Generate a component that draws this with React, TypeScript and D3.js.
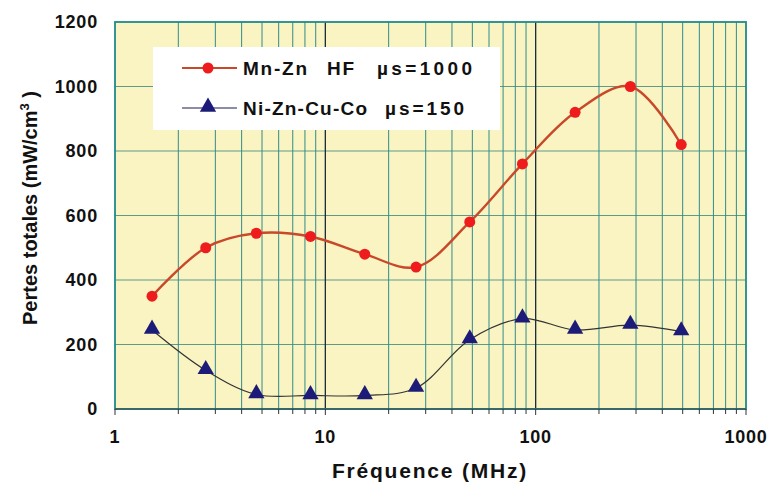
import * as React from 'react';
import * as d3 from 'd3';

// fréquences (MHz)
const freqs: number[] = [1.5, 2.7, 4.7, 8.5, 15.4, 27, 48.6, 86.5, 154, 282, 492];
const mnZn: number[] = [350, 500, 545, 535, 480, 440, 580, 760, 920, 1000, 820];
const niZn: number[] = [245, 120, 45, 42, 42, 65, 215, 280, 245, 260, 240];
const yTicks: number[] = [0, 200, 400, 600, 800, 1000, 1200];
const xTicks: number[] = [1, 10, 100, 1000];
const legendMn: string[] = ['Mn-Zn', 'HF', 'µs=1000'];
const legendNi: string[] = ['Ni-Zn-Cu-Co', 'µs=150'];

const W = 771;
const H = 486;
const m = { left: 115, right: 25, top: 22, bottom: 77 };
const FONT = '"Liberation Sans", Arial, sans-serif';

const App = () => {
    const x = d3.scaleLog().domain([1, 1000]).range([m.left, W - m.right]);
    const y = d3.scaleLinear().domain([0, 1200]).range([H - m.bottom, m.top]);

    // graduations secondaires 2..9 de chaque décade
    const minor: number[] = [];
    [1, 10, 100].forEach(d => {
        for (let k = 2; k <= 9; k++) { minor.push(d * k); }
    });

    const line = d3.line<number>()
        .x((d, i) => x(freqs[i]))
        .y(d => y(d))
        .curve(d3.curveCatmullRom.alpha(0.5));

    const tri = d3.symbol().type(d3.symbolTriangle).size(115);

    const [x0, x1] = x.range();
    const [yb, yt] = y.range();

    // placement des morceaux de texte de la légende (x, largeur)
    const mnPos = [[243, 64], [327, 27], [377, 95]];
    const niPos = [[243, 124], [385, 79]];

    return (
        <svg width={W} height={H} style={{ position: 'absolute', left: 0, top: 0, background: '#fff' }}>
            <rect x={x0} y={yt} width={x1 - x0} height={yb - yt} fill="#FAF4C2" />
            {yTicks.slice(1, -1).map(t => (
                <line key={'h' + t} x1={x0} x2={x1} y1={y(t)} y2={y(t)} stroke="#5E9A88" strokeWidth={1.2} />
            ))}
            {minor.map(t => (
                <line key={'v' + t} x1={x(t)} x2={x(t)} y1={yt} y2={yb} stroke="#2F8C8C" strokeWidth={1} />
            ))}
            {[10, 100].map(t => (
                <line key={'M' + t} x1={x(t)} x2={x(t)} y1={yt} y2={yb} stroke="#1A2A3A" strokeWidth={1.3} />
            ))}
            <rect x={x0} y={yt} width={x1 - x0} height={yb - yt} fill="none" stroke="#1F8A8A" strokeWidth={1.8} />
            <line x1={x0} x2={x1} y1={yb} y2={yb} stroke="#3A5A5A" strokeWidth={1.5} />
            {minor.concat(xTicks).map(t => (
                <line key={'t' + t} x1={x(t)} x2={x(t)} y1={yb} y2={yb + (xTicks.includes(t) ? 6 : 5)} stroke="#333" strokeWidth={1} />
            ))}

            {/* légende */}
            <rect x={153} y={47} width={347} height={83} fill="#fff" />
            <line x1={182} x2={237} y1={68} y2={68} stroke="#C8482A" strokeWidth={2.2} />
            <circle cx={208} cy={68} r={5.5} fill="#EE1C1C" />
            <line x1={182} x2={237} y1={108} y2={108} stroke="#1B1B50" strokeWidth={1.2} />
            <path d={tri() || ''} transform="translate(208,107)" fill="#1C1C78" />
            {legendMn.map((l, i) => (
                <text key={l} x={mnPos[i][0]} y={75} textLength={mnPos[i][1]} lengthAdjust="spacing"
                    fontFamily={FONT} fontWeight="bold" fontSize={19} fill="#111">{l}</text>
            ))}
            {legendNi.map((l, i) => (
                <text key={l} x={niPos[i][0]} y={115} textLength={niPos[i][1]} lengthAdjust="spacing"
                    fontFamily={FONT} fontWeight="bold" fontSize={19} fill="#111">{l}</text>
            ))}

            <path d={line(niZn) || ''} fill="none" stroke="#333" strokeWidth={1.2} />
            <path d={line(mnZn) || ''} fill="none" stroke="#C8482A" strokeWidth={2.4} />
            {mnZn.map((v, i) => (
                <circle key={'c' + i} cx={x(freqs[i])} cy={y(v)} r={5.5} fill="#EE1C1C" />
            ))}
            {niZn.map((v, i) => (
                <path key={'p' + i} d={tri() || ''} transform={`translate(${x(freqs[i])},${y(v) - 1})`} fill="#1C1C78" />
            ))}

            {yTicks.map(t => (
                <text key={'yl' + t} x={98} y={y(t) + 6} textAnchor="end" fontFamily={FONT} fontWeight="bold"
                    fontSize={18} letterSpacing={0.8} fill="#111">{t}</text>
            ))}
            {xTicks.map(t => (
                <text key={'xl' + t} x={x(t)} y={443} textAnchor="middle" fontFamily={FONT} fontWeight="bold"
                    fontSize={18} letterSpacing={0.8} fill="#111">{t}</text>
            ))}
            <text x={430} y={478} textAnchor="middle" fontFamily={FONT} fontWeight="bold" fontSize={21}
                letterSpacing={1.8} fill="#111">Fréquence (MHz)</text>
            <text transform="translate(37,208) rotate(-90)" textAnchor="middle" fontFamily={FONT}
                fontWeight="bold" fontSize={20} fill="#111">
                Pertes totales (mW/cm<tspan dy={-8} fontSize={13}>3</tspan><tspan dy={8}> )</tspan>
            </text>
        </svg>
    );
};

export default App;
